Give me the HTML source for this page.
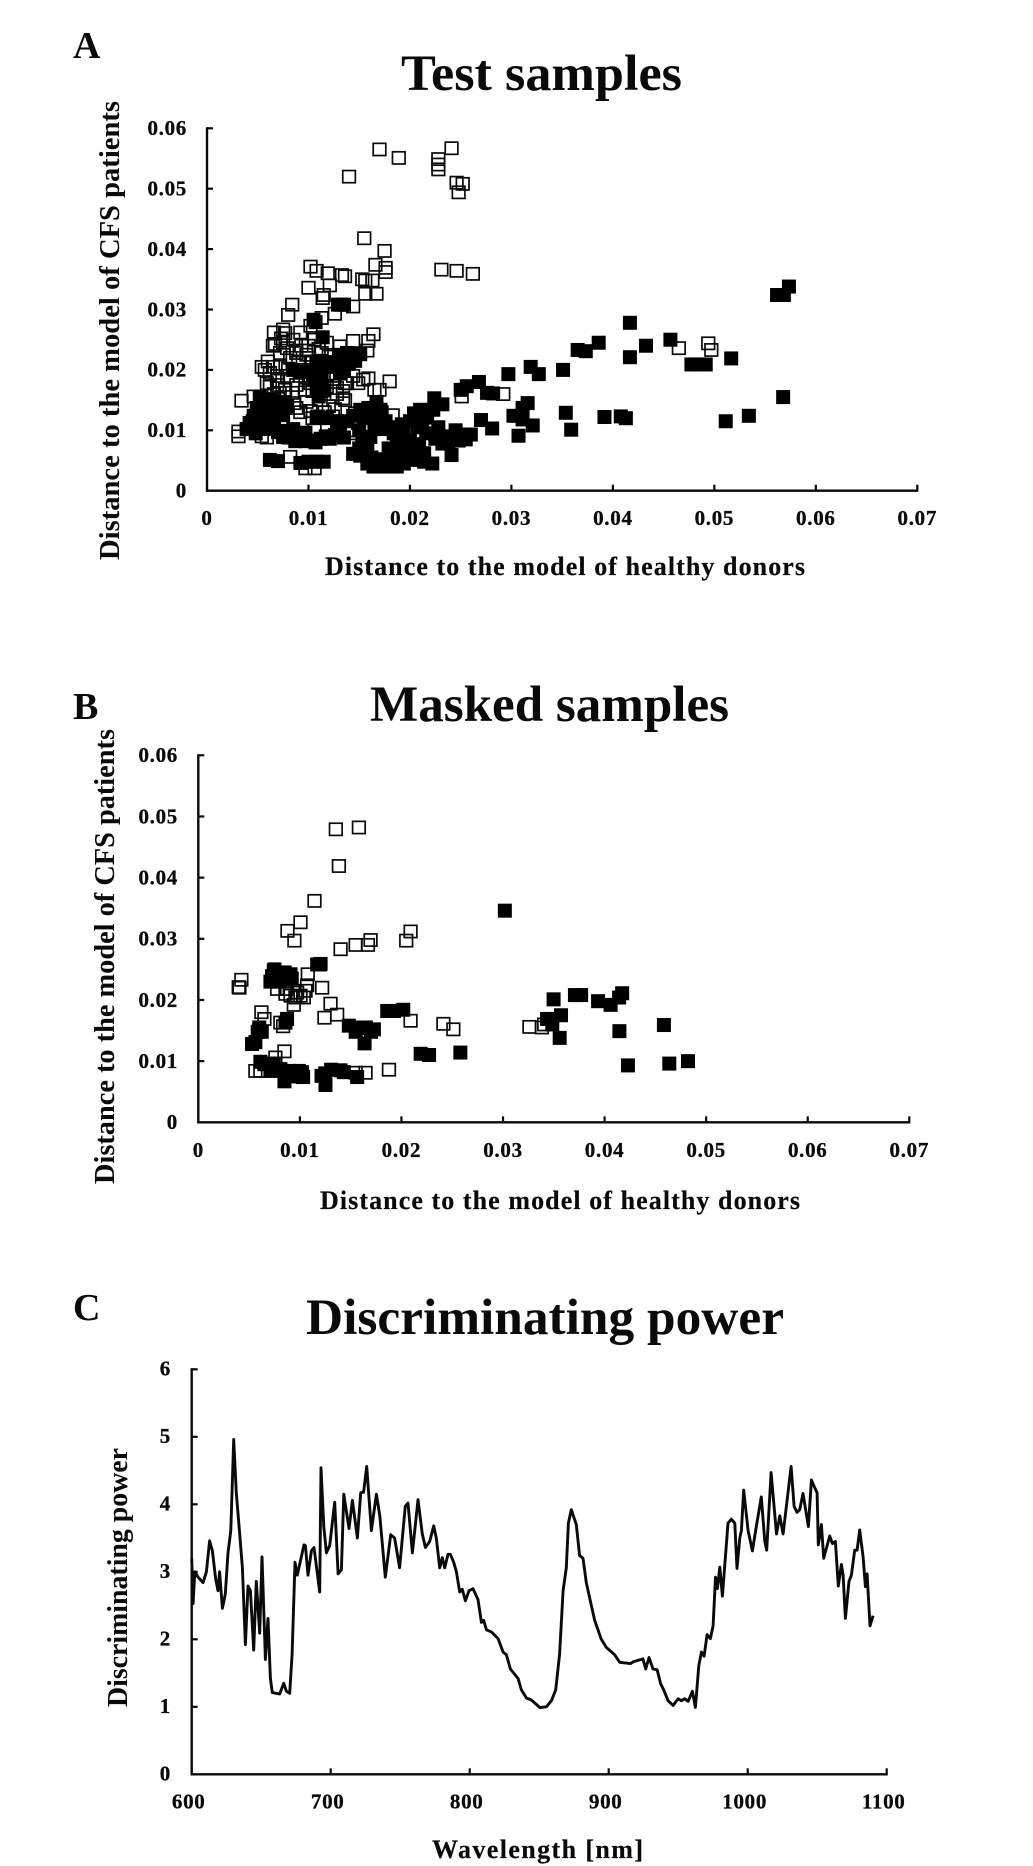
<!DOCTYPE html>
<html lang="en">
<head>
<meta charset="utf-8">
<title>Test samples, masked samples and discriminating power</title>
<style>
html,body{margin:0;padding:0;background:#fff;}
svg{display:block;}
text{font-family:"Liberation Serif",serif;font-weight:bold;fill:#0a0a0a;}
.tick{font-size:21px;letter-spacing:.7px;stroke:#0a0a0a;stroke-width:.3px;}
.axis-title{font-size:26px;stroke:#0a0a0a;stroke-width:.2px;}
.y-title{font-size:29px;}
.title{font-size:51px;}
.panel{font-size:38px;}
</style>
</head>
<body>
<svg id="fig" xmlns="http://www.w3.org/2000/svg" width="1033" height="1866" viewBox="0 0 1033 1866">
  <rect x="0" y="0" width="1033" height="1866" fill="#fff"/>

  <text class="panel" x="73" y="58">A</text>
  <text class="title" x="401" y="90" textLength="281" lengthAdjust="spacingAndGlyphs">Test samples</text>
  <text class="y-title" transform="translate(119,560) rotate(-90)" textLength="459" lengthAdjust="spacingAndGlyphs">Distance to the model of CFS patients</text>
  <text class="axis-title" x="325" y="575" textLength="480">Distance to the model of healthy donors</text>

  <text class="panel" x="73" y="719">B</text>
  <text class="title" x="370" y="721" textLength="359" lengthAdjust="spacingAndGlyphs">Masked samples</text>
  <text class="y-title" transform="translate(114,1184) rotate(-90)" textLength="455" lengthAdjust="spacingAndGlyphs">Distance to the model of CFS patients</text>
  <text class="axis-title" x="320" y="1209" textLength="480">Distance to the model of healthy donors</text>

  <text class="panel" x="73" y="1320">C</text>
  <text class="title" x="306" y="1334" textLength="478" lengthAdjust="spacingAndGlyphs">Discriminating power</text>
  <text class="y-title" style="font-size:28px" transform="translate(127,1707) rotate(-90)" textLength="259" lengthAdjust="spacingAndGlyphs">Discriminating power</text>
  <text class="axis-title" x="432" y="1858" textLength="211">Wavelength [nm]</text>
</svg>

<script>
/* ---------- Panel A: test samples ---------- */
const scatterXTicks = [0, 0.01, 0.02, 0.03, 0.04, 0.05, 0.06, 0.07];
const scatterYTicks = [0, 0.01, 0.02, 0.03, 0.04, 0.05, 0.06];
const testOpenX = [0.0140,0.0170,0.0189,0.0228,0.0228,0.0228,0.0241,0.0246,0.0252,0.0248,0.0155,0.0175,0.0166,0.0176,0.0176,0.0231,0.0246,0.0262,0.0102,0.0108,0.0119,0.0133,0.0136,0.0153,0.0156,0.0163,0.0121,0.0100,0.0115,0.0114,0.0167,0.0156,0.0084,0.0144,0.0126,0.0080,0.0113,0.0102,0.0066,0.0075,0.0077,0.0092,0.0164,0.0159,0.0144,0.0067,0.0075,0.0131,0.0158,0.0088,0.0100,0.0054,0.0060,0.0057,0.0065,0.0072,0.0080,0.0069,0.0079,0.0059,0.0069,0.0077,0.0084,0.0088,0.0098,0.0090,0.0082,0.0072,0.0079,0.0113,0.0097,0.0088,0.0097,0.0088,0.0098,0.0118,0.0124,0.0123,0.0134,0.0144,0.0154,0.0159,0.0149,0.0138,0.0180,0.0170,0.0165,0.0183,0.0109,0.0118,0.0104,0.0124,0.0034,0.0046,0.0031,0.0031,0.0059,0.0054,0.0106,0.0082,0.0097,0.0106,0.0143,0.0141,0.0149,0.0146,0.0136,0.0134,0.0062,0.0065,0.0115,0.0108,0.0096,0.0104,0.0070,0.0086,0.0104,0.0112,0.0120,0.0128,0.0172,0.0465,0.0494,0.0497,0.0292,0.0251,0.0073,0.0085,0.0093,0.0062,0.0070,0.0100,0.0106,0.0118,0.0066,0.0076,0.0092,0.0102,0.0128,0.0136,0.0092,0.0102,0.0116,0.0126,0.0110,0.0120];
const testOpenY = [0.0520,0.0565,0.0551,0.0549,0.0540,0.0532,0.0567,0.0510,0.0508,0.0494,0.0418,0.0397,0.0374,0.0369,0.0362,0.0366,0.0364,0.0359,0.0371,0.0364,0.0360,0.0357,0.0355,0.0350,0.0348,0.0348,0.0340,0.0336,0.0324,0.0319,0.0326,0.0326,0.0308,0.0305,0.0293,0.0291,0.0286,0.0273,0.0262,0.0267,0.0261,0.0262,0.0259,0.0248,0.0248,0.0243,0.0245,0.0239,0.0232,0.0232,0.0232,0.0205,0.0214,0.0200,0.0205,0.0205,0.0202,0.0190,0.0190,0.0178,0.0175,0.0167,0.0162,0.0228,0.0225,0.0214,0.0220,0.0228,0.0236,0.0228,0.0167,0.0175,0.0183,0.0137,0.0147,0.0172,0.0185,0.0194,0.0153,0.0190,0.0184,0.0186,0.0178,0.0178,0.0181,0.0167,0.0167,0.0125,0.0123,0.0120,0.0120,0.0123,0.0149,0.0156,0.0098,0.0090,0.0088,0.0090,0.0100,0.0056,0.0037,0.0037,0.0095,0.0100,0.0112,0.0128,0.0150,0.0165,0.0172,0.0240,0.0190,0.0208,0.0200,0.0214,0.0152,0.0145,0.0165,0.0150,0.0140,0.0160,0.0130,0.0236,0.0244,0.0233,0.0160,0.0156,0.0252,0.0250,0.0240,0.0195,0.0182,0.0240,0.0250,0.0245,0.0160,0.0155,0.0190,0.0178,0.0170,0.0178,0.0130,0.0132,0.0130,0.0135,0.0235,0.0222];
const testFilledX = [0.0105,0.0107,0.0129,0.0132,0.0135,0.0114,0.0151,0.0144,0.0138,0.0133,0.0135,0.0131,0.0125,0.0085,0.0093,0.0102,0.0108,0.0113,0.0111,0.0115,0.0110,0.0052,0.0062,0.0072,0.0079,0.0049,0.0059,0.0069,0.0046,0.0056,0.0066,0.0042,0.0049,0.0039,0.0056,0.0072,0.0082,0.0092,0.0102,0.0112,0.0121,0.0131,0.0075,0.0085,0.0097,0.0138,0.0144,0.0128,0.0118,0.0108,0.0062,0.0070,0.0092,0.0100,0.0108,0.0115,0.0151,0.0159,0.0167,0.0171,0.0163,0.0176,0.0144,0.0151,0.0158,0.0164,0.0171,0.0181,0.0187,0.0194,0.0204,0.0214,0.0222,0.0153,0.0161,0.0171,0.0179,0.0187,0.0194,0.0200,0.0209,0.0190,0.0204,0.0210,0.0217,0.0200,0.0224,0.0232,0.0223,0.0225,0.0233,0.0245,0.0253,0.0260,0.0248,0.0241,0.0250,0.0256,0.0268,0.0276,0.0282,0.0270,0.0281,0.0297,0.0319,0.0327,0.0316,0.0311,0.0302,0.0311,0.0321,0.0307,0.05735,0.05618,0.05685,0.04168,0.04567,0.04326,0.0386,0.03733,0.03653,0.04168,0.05166,0.04774,0.04848,0.04915,0.03509,0.05678,0.03536,0.03589,0.03917,0.04078,0.04128,0.05112,0.0534,0.0045,0.0052,0.0060,0.0068,0.0058,0.0066,0.0048,0.0075,0.0080,0.0087,0.0097,0.0107,0.0117,0.0126,0.0135,0.0070,0.0110,0.0112,0.0106,0.0114,0.0112,0.0108,0.0128,0.0140,0.0146,0.0138,0.0130,0.0155,0.0165,0.0160,0.0172,0.0180,0.0150,0.0150,0.0158,0.0162,0.0172,0.0180,0.0188,0.0196,0.0205,0.0214,0.0196,0.0184,0.0192,0.0208,0.0216,0.0228,0.0212,0.0240,0.0238,0.0232,0.0255,0.0245];
const testFilledY = [0.0283,0.0279,0.0308,0.0308,0.0308,0.0254,0.0226,0.0223,0.0220,0.0213,0.0200,0.0194,0.0213,0.0200,0.0197,0.0197,0.0210,0.0188,0.0175,0.0166,0.0156,0.0156,0.0150,0.0147,0.0140,0.0137,0.0140,0.0131,0.0124,0.0121,0.0118,0.0112,0.0105,0.0102,0.0102,0.0099,0.0096,0.0089,0.0083,0.0086,0.0086,0.0096,0.0089,0.0102,0.0096,0.0115,0.0124,0.0115,0.0121,0.0121,0.0051,0.0049,0.0046,0.0048,0.0048,0.0048,0.0134,0.0137,0.0147,0.0134,0.0124,0.0115,0.0061,0.0058,0.0045,0.0040,0.0040,0.0040,0.0040,0.0045,0.0051,0.0048,0.0045,0.0083,0.0089,0.0102,0.0070,0.0083,0.0096,0.0083,0.0077,0.0064,0.0128,0.0134,0.0121,0.0115,0.0153,0.0143,0.0134,0.0086,0.0086,0.0093,0.0093,0.0093,0.0083,0.0059,0.0167,0.0173,0.0180,0.0162,0.0161,0.0117,0.0103,0.0193,0.0205,0.0193,0.0145,0.0137,0.0124,0.0118,0.0108,0.0091,0.0338,0.0324,0.0324,0.0278,0.0250,0.0240,0.0245,0.0231,0.0233,0.0221,0.0219,0.0209,0.0209,0.0209,0.0200,0.0155,0.0129,0.0101,0.0122,0.0123,0.0120,0.0115,0.0124,0.0115,0.0130,0.0128,0.0140,0.0110,0.0105,0.0095,0.0125,0.0088,0.0082,0.0082,0.0080,0.0090,0.0092,0.0088,0.0097,0.0200,0.0215,0.0190,0.0205,0.0165,0.0170,0.0205,0.0210,0.0215,0.0228,0.0225,0.0120,0.0112,0.0130,0.0120,0.0105,0.0100,0.0070,0.0070,0.0055,0.0052,0.0052,0.0050,0.0058,0.0065,0.0062,0.0072,0.0095,0.0110,0.0105,0.0095,0.0105,0.0118,0.0090,0.0080,0.0078,0.0085,0.0100];

/* ---------- Panel B: masked samples ---------- */
const maskedOpenX = [0.01354,0.01581,0.01384,0.01144,0.01006,0.00878,0.00946,0.01401,0.01549,0.01696,0.0167,0.0209,0.02047,0.01203,0.01078,0.00424,0.00398,0.00405,0.01071,0.01219,0.00776,0.00874,0.00973,0.00858,0.00908,0.00956,0.01039,0.0094,0.01006,0.01056,0.01302,0.01242,0.01367,0.00621,0.00651,0.00808,0.00835,0.0209,0.02413,0.02511,0.00848,0.00759,0.00562,0.00611,0.01549,0.01647,0.01877,0.0326,0.03382,0.03405];
const maskedOpenY = [0.0479,0.0482,0.0419,0.0362,0.0327,0.0313,0.0297,0.0283,0.029,0.0298,0.029,0.0312,0.0297,0.0259,0.0242,0.0233,0.0221,0.022,0.0224,0.022,0.0218,0.0218,0.0212,0.021,0.0207,0.0204,0.0204,0.0192,0.0207,0.0215,0.0194,0.0171,0.0176,0.018,0.0169,0.0163,0.0157,0.0166,0.0161,0.0152,0.0116,0.0106,0.0084,0.0084,0.0081,0.0081,0.0086,0.0156,0.0155,0.016];
const maskedFilledX = [0.00743,0.00726,0.0071,0.00825,0.00908,0.00793,0.00874,0.0117,0.01196,0.00874,0.00858,0.00601,0.00585,0.00625,0.00529,0.00562,0.03018,0.03498,0.03434,0.03571,0.03485,0.03558,0.03708,0.03769,0.03936,0.04059,0.04143,0.04173,0.04146,0.04584,0.0423,0.04637,0.04821,0.00611,0.00693,0.00743,0.0071,0.00808,0.00891,0.00848,0.00989,0.01032,0.01213,0.01252,0.01308,0.01433,0.01564,0.01482,0.01549,0.0163,0.01729,0.01637,0.0186,0.01926,0.02018,0.02189,0.02272,0.0258,0.0075,0.0085,0.0092,0.0080,0.0065,0.0078,0.0095,0.0102,0.0125,0.0140,0.0060,0.0156,0.0170,0.0165];
const maskedFilledY = [0.0248,0.0239,0.023,0.0242,0.0242,0.023,0.0233,0.0258,0.0258,0.0169,0.0163,0.015,0.0148,0.0148,0.0128,0.0131,0.0346,0.0201,0.0169,0.0175,0.016,0.0138,0.0208,0.0208,0.0198,0.0192,0.0204,0.0211,0.0149,0.0159,0.0093,0.0096,0.01,0.0099,0.0096,0.0096,0.0084,0.0087,0.0084,0.0067,0.0084,0.0074,0.0076,0.0061,0.0086,0.0082,0.0074,0.0158,0.0148,0.0154,0.0152,0.0129,0.0182,0.0182,0.0184,0.0112,0.011,0.0114,0.0250,0.0245,0.0235,0.0240,0.0095,0.0085,0.0075,0.0082,0.0080,0.0085,0.0155,0.0155,0.0148,0.0155];

/* ---------- Panel C: discriminating power ---------- */
const powerXTicks = [600, 700, 800, 900, 1000, 1100];
const powerYTicks = [0, 1, 2, 3, 4, 5, 6];
const wavelengths = [600,601,602.2,604.6,608.2,610.6,612.9,614.9,617.3,618.9,620.1,622.1,624.2,626.1,628.1,630.2,632.1,634.5,636.5,638.6,640.5,642.2,644.6,646.5,648.9,650.6,653,654.9,656.6,658,663.3,666.2,668.1,670.5,672.2,674.3,676,680.8,681.8,683.7,686.1,688,692.1,693,695,696.9,699.3,702.9,705.3,707.7,709.4,713.2,715.6,719.2,721.6,723.7,725.9,729.3,732.9,735.3,739.3,743.2,746,749.6,753.7,755.6,758.8,762.8,765.9,768.1,771.2,774.1,776,778.4,780.3,782,784.4,786.1,788.5,790.4,792.8,794.7,796.9,799.5,802.4,806,808.4,810.1,812,815.6,820.4,824,826.4,829.3,834.8,837.2,840.8,844.4,850.4,855.2,858.8,861.9,864.7,867.2,869.5,871,873.1,876.7,879.1,881.5,883.9,886.3,889.9,894.7,898.3,904.3,907.9,915.6,917.9,924.7,926.6,929,931.9,934.8,937.4,939.6,942.7,946.3,949.9,952.3,954.7,957.1,960.2,962.4,964.8,966.7,968.6,970.8,973.2,975.1,976.8,978.2,979.9,981.8,985.8,988.3,990.7,992.3,994.3,995.5,997.1,1000.3,1003.4,1006.2,1009.8,1012.3,1013.7,1016.8,1020.7,1023.1,1025.5,1031.2,1033.4,1035.5,1037.4,1039.8,1043.7,1045.8,1047.5,1049.9,1050.8,1053,1054.7,1059,1060.9,1063.1,1065.2,1067.4,1068.6,1070.3,1072.9,1074.6,1077,1078.7,1080.6,1083,1084.7,1085.9,1088,1090.2];
const powerValues = [3.2,2.53,3,2.92,2.84,3,3.46,3.31,2.89,2.72,3,2.46,2.67,3.28,3.61,4.96,4.17,3.56,3.06,1.92,2.79,2.72,1.84,2.86,2.09,3.22,1.7,2.31,1.42,1.21,1.19,1.35,1.23,1.2,1.78,3.14,2.95,3.4,3.39,2.95,3.31,3.36,2.7,4.54,3.67,3.28,3.39,4.03,2.97,3.03,4.15,3.64,4.06,3.5,4.17,4.18,4.56,3.61,4.15,3.83,2.92,3.55,3.5,3.06,3.97,4.02,3.28,4.07,3.56,3.36,3.45,3.68,3.5,3.06,3.21,3.06,3.26,3.26,3.14,3,2.7,2.74,2.57,2.72,2.75,2.59,2.25,2.28,2.14,2.11,2.01,1.81,1.77,1.56,1.42,1.25,1.13,1.1,0.99,1,1.09,1.25,1.78,2.72,3.06,3.72,3.92,3.7,3.24,3.2,2.84,2.61,2.28,2,1.88,1.77,1.66,1.64,1.67,1.71,1.56,1.73,1.56,1.55,1.34,1.25,1.09,1.02,1.12,1.09,1.12,1.08,1.23,0.99,1.61,1.81,1.75,2.07,2.01,2.2,2.92,2.75,3.07,2.64,3.72,3.78,3.72,3.05,3.5,3.61,4.21,3.61,3.31,3.67,4.11,3.45,3.32,4.47,3.56,3.83,3.56,4.56,3.97,3.88,3.92,4.16,3.67,4.36,4.28,4.17,3.4,3.7,3.2,3.53,3.42,3.45,2.79,3.11,2.95,2.31,2.86,2.95,3.32,3.32,3.62,3.22,2.78,2.97,2.2,2.35];

const NS = 'http://www.w3.org/2000/svg';
const fig = document.getElementById('fig');

function node(tag, parent) {
  const el = document.createElementNS(NS, tag);
  parent.appendChild(el);
  return el;
}

/* Axis factory: linear scales from data value to pixel */
function linearScale(d0, d1, p0, p1) {
  return function (v) { return p0 + (v - d0) * (p1 - p0) / (d1 - d0); };
}

function drawAxes(prefix, sx, sy, xTicks, yTicks, xLast, yLast, xLabelRight, xBase, yBase, xShift) {
  const g = node('g', fig);
  
  
  const x0 = sx(xTicks[0]), y0 = sy(yTicks[0]);
  const yLine = node('line', g);
  
  
  yLine.setAttribute('x1', x0);
  yLine.setAttribute('x2', x0);
  yLine.setAttribute('y1', sy(yLast) - 1);
  yLine.setAttribute('y2', y0 + 1);
  yLine.setAttribute('stroke', '#0a0a0a');
  yLine.setAttribute('stroke-width', '2.4');
  const xLine = node('line', g);
  
  
  xLine.setAttribute('x1', x0 - 1);
  xLine.setAttribute('x2', sx(xLast) + 1);
  xLine.setAttribute('y1', y0);
  xLine.setAttribute('y2', y0);
  xLine.setAttribute('stroke', '#0a0a0a');
  xLine.setAttribute('stroke-width', '2.4');
  yTicks.forEach(function (t) {
    if (t !== yTicks[0]) {
      const m = node('line', g);
      
      
      m.setAttribute('x1', x0);
      m.setAttribute('x2', x0 + 6);
      m.setAttribute('y1', sy(t));
      m.setAttribute('y2', sy(t));
      m.setAttribute('stroke', '#0a0a0a');
      m.setAttribute('stroke-width', '2.2');
    }
    const l = node('text', g);
    
    
    l.setAttribute('class', 'tick');
    l.setAttribute('text-anchor', 'end');
    l.setAttribute('x', xLabelRight);
    l.setAttribute('y', sy(t) + yBase);
    l.textContent = String(t);
  });
  xTicks.forEach(function (t) {
    if (t !== xTicks[0]) {
      const m = node('line', g);
      
      
      m.setAttribute('x1', sx(t));
      m.setAttribute('x2', sx(t));
      m.setAttribute('y1', y0);
      m.setAttribute('y2', y0 - 6);
      m.setAttribute('stroke', '#0a0a0a');
      m.setAttribute('stroke-width', '2.2');
    }
    const l = node('text', g);
    
    
    l.setAttribute('class', 'tick');
    l.setAttribute('text-anchor', 'middle');
    l.setAttribute('x', sx(t) + xShift);
    l.setAttribute('y', y0 + xBase);
    l.textContent = String(t);
  });
}

function drawSquares(seriesName, xs, ys, sx, sy, filled) {
  const g = node('g', fig);
  
  
  xs.forEach(function (v, i) {
    const r = node('rect', g);
    
    
    if (filled) {
      r.setAttribute('x', sx(v) - 7);
      r.setAttribute('y', sy(ys[i]) - 7);
      r.setAttribute('width', 14);
      r.setAttribute('height', 14);
      r.setAttribute('fill', '#000');
    } else {
      r.setAttribute('x', sx(v) - 6.3);
      r.setAttribute('y', sy(ys[i]) - 6.1);
      r.setAttribute('width', 12.6);
      r.setAttribute('height', 12.2);
      r.setAttribute('fill', 'none');
      r.setAttribute('stroke', '#0a0a0a');
      r.setAttribute('stroke-width', '1.7');
    }
  });
}

/* Panel A */
const ax = linearScale(0, 0.07, 207, 917.3);
const ay = linearScale(0, 0.06, 490.7, 128.3);
drawAxes('test', ax, ay, scatterXTicks, scatterYTicks, 0.07, 0.06, 187, 34.5, 6.8, 0);
drawSquares('test-open', testOpenX, testOpenY, ax, ay, false);
drawSquares('test-filled', testFilledX, testFilledY, ax, ay, true);

/* Panel B */
const bx = linearScale(0, 0.07, 198.3, 909.3);
const by = linearScale(0, 0.06, 1122.3, 755.3);
drawAxes('masked', bx, by, scatterXTicks, scatterYTicks, 0.07, 0.06, 178, 34.5, 6.8, 0);
drawSquares('masked-open', maskedOpenX, maskedOpenY, bx, by, false);
drawSquares('masked-filled', maskedFilledX, maskedFilledY, bx, by, true);

/* Panel C */
const cx = linearScale(600, 1100, 191.7, 886.7);
const cy = linearScale(0, 6, 1774.3, 1369.3);
drawAxes('power', cx, cy, powerXTicks, powerYTicks, 1100, 6, 171, 34, 6.3, -3);
const powerLine = node('polyline', fig);


powerLine.setAttribute('fill', 'none');
powerLine.setAttribute('stroke', '#0a0a0a');
powerLine.setAttribute('stroke-width', '2.9');
powerLine.setAttribute('stroke-linejoin', 'round');
powerLine.setAttribute('points', wavelengths.map(function (w, i) {
  return cx(w).toFixed(1) + ',' + cy(powerValues[i]).toFixed(1);
}).join(' '));
</script>
</body>
</html>
